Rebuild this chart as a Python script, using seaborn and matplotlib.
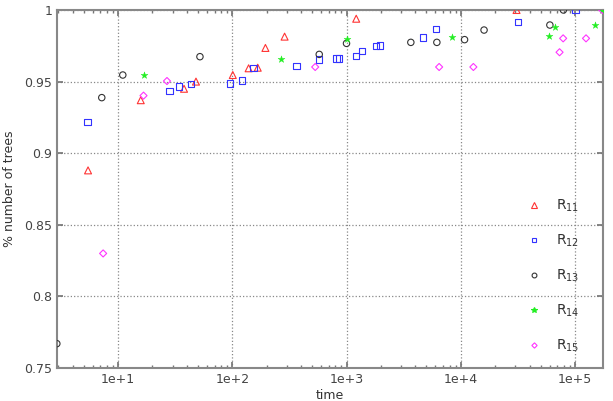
import matplotlib
matplotlib.use("Agg")
import matplotlib.pyplot as plt
import matplotlib.ticker as mticker
import seaborn as sns
import pandas as pd

# ---- data ----
r11_t = [5.46, 15.8, 37.8, 48.1, 101, 139, 167, 195, 287, 1216, 30800]
r11_v = [0.888, 0.937, 0.945, 0.950, 0.9546, 0.9593, 0.9597, 0.9735, 0.9814, 0.9939, 1.0]

r12_t = [5.38, 28.1, 34.2, 43.5, 95.5, 121, 153, 366, 577, 818, 857, 1217, 1366, 1806, 1971, 4656, 6055, 31800, 101000]
r12_v = [0.9216, 0.9435, 0.9465, 0.9483, 0.9486, 0.9507, 0.9597, 0.9611, 0.9653, 0.966, 0.966, 0.9677, 0.9714, 0.9747, 0.9751, 0.9807, 0.9867, 0.9918, 1.0]

r13_t = [2.91, 7.2, 11.0, 52.1, 577, 1000, 3657, 6180, 10800, 16000, 60300, 79200]
r13_v = [0.767, 0.9388, 0.9546, 0.9674, 0.969, 0.9767, 0.9774, 0.9774, 0.9793, 0.986, 0.9895, 1.0]

r14_t = [16.7, 267, 1014, 8470, 59000, 66500, 150000, 173000]
r14_v = [0.9544, 0.9656, 0.9798, 0.9809, 0.9816, 0.9884, 0.9895, 1.0]

r15_t = [7.4, 16.7, 26.8, 532, 6470, 12900, 73300, 78800, 125000, 173000]
r15_v = [0.830, 0.9402, 0.9504, 0.9602, 0.9602, 0.9602, 0.9705, 0.9802, 0.9802, 1.0]

series_names = ["R$_{11}$", "R$_{12}$", "R$_{13}$", "R$_{14}$", "R$_{15}$"]
x_tick_vals = [10, 100, 1000, 10000, 100000]
x_tick_labels = ["1e+1", "1e+2", "1e+3", "1e+4", "1e+5"]
y_tick_vals = [0.75, 0.8, 0.85, 0.9, 0.95, 1.0]
y_tick_labels = ["0.75", "0.8", "0.85", "0.9", "0.95", "1"]

sns.set_theme(style="white")
plt.rcParams["font.family"] = ["DejaVu Sans"]

fig = plt.figure(figsize=(6.13, 4.01), dpi=100)
ax = fig.add_axes([57 / 613, 33 / 401, 546 / 613, 358 / 401])

styles = [
    (r11_t, r11_v, "#ff3333", "^", 5.0, True),
    (r12_t, r12_v, "#3333ff", "s", 4.6, True),
    (r13_t, r13_v, "#333333", "o", 4.6, True),
    (r14_t, r14_v, "#22ee22", "*", 5.2, False),
    (r15_t, r15_v, "#ff33ff", "D", 3.6, True),
]

handles = []
for (t, v, c, m, s, hollow), name in zip(styles, series_names):
    df = pd.DataFrame({"time": t, "value": v})
    if hollow:
        sns.scatterplot(data=df, x="time", y="value", ax=ax, marker=m,
                        s=s ** 2, facecolor="none", edgecolor=c,
                        linewidth=0.8, zorder=3)
    else:
        sns.scatterplot(data=df, x="time", y="value", ax=ax, marker=m,
                        s=s ** 2, color=c, edgecolor=c, linewidth=0.3,
                        zorder=3)
    h = plt.Line2D([], [], linestyle="none", marker=m,
                   markersize=s * 0.75,
                   markerfacecolor=("none" if hollow else c),
                   markeredgecolor=c, markeredgewidth=0.8)
    handles.append(h)

ax.set_xscale("log")
ax.set_xlim(2.92, 1.76e5)
ax.set_ylim(0.75, 1.0)

ax.set_xticks(x_tick_vals)
ax.set_xticklabels(x_tick_labels)
ax.xaxis.set_minor_locator(mticker.LogLocator(base=10, subs=range(2, 10), numticks=20))
ax.xaxis.set_minor_formatter(mticker.NullFormatter())
ax.set_yticks(y_tick_vals)
ax.set_yticklabels(y_tick_labels)

ax.grid(True, which="major", linestyle=":", color="#888888", linewidth=0.9)
ax.tick_params(which="both", direction="in", top=True, right=True,
               bottom=True, left=True, colors="#444444", labelsize=9)
ax.tick_params(which="major", length=4, color="#777777")
ax.tick_params(which="minor", length=2.5, color="#777777")
for sp in ax.spines.values():
    sp.set_color("#888888")
    sp.set_linewidth(1.5)

ax.set_xlabel("time", fontsize=9, color="#333333", labelpad=2)
ax.set_ylabel("% number of trees", fontsize=9, color="#333333", labelpad=6)

leg = ax.legend(handles, series_names, loc="upper left",
                bbox_to_anchor=(0.85, 0.492), frameon=False,
                labelspacing=1.35, handletextpad=1.1, fontsize=10,
                handlelength=1.0, borderaxespad=0)
for txt in leg.get_texts():
    txt.set_color("#333333")

fig.savefig("out.png", dpi=100)
